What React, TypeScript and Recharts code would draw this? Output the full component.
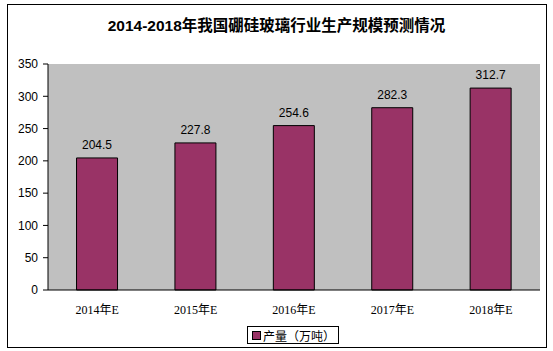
import { Bar, BarChart, CartesianGrid, LabelList, XAxis, YAxis } from "recharts";

const years = ["2014年E", "2015年E", "2016年E", "2017年E", "2018年E"];
const output = [204.5, 227.8, 254.6, 282.3, 312.7];
const yTicks = [0, 50, 100, 150, 200, 250, 300, 350];
const seriesName = "产量（万吨）";
const title = "2014-2018年我国硼硅玻璃行业生产规模预测情况";

const data = years.map((year, i) => ({ year, output: output[i] }));

const BAR = "#993366";
const sans = "Arial, 'Liberation Sans', 'Noto Sans CJK SC', sans-serif";
const serif = "'Liberation Serif', 'Noto Sans CJK SC', serif";

export default function App() {
  return (
    <div style={{ position: "absolute", left: 0, top: 0, width: 553, height: 351, background: "#fff" }}>
      <div
        style={{
          position: "absolute",
          left: 7,
          top: 4,
          width: 538,
          height: 342,
          border: "1px solid #000",
        }}
      />
      <div
        style={{
          position: "absolute",
          left: 0,
          top: 13,
          width: 553,
          textAlign: "center",
          fontFamily: sans,
          fontWeight: "bold",
          fontSize: 15.5,
          color: "#000",
        }}
      >
        {title}
      </div>
      <div style={{ position: "absolute", left: 0, top: 0 }}>
        <BarChart
          width={553}
          height={351}
          data={data}
          margin={{ top: 64, right: 13, bottom: 31, left: 0 }}
          barCategoryGap="29%"
        >
          <CartesianGrid fill="#c0c0c0" stroke="none" />
          <XAxis
            dataKey="year"
            height={30}
            tickLine={false}
            axisLine={{ stroke: "#000" }}
            tickMargin={9}
            tick={{ fontFamily: serif, fontSize: 12, fill: "#000" }}
          />
          <XAxis xAxisId="top" dataKey="year" orientation="top" height={0} tick={false} tickLine={false} axisLine={{ stroke: "#000" }} />
          <YAxis
            domain={[0, 350]}
            ticks={yTicks}
            width={48}
            tickSize={5}
            tickMargin={5}
            axisLine={{ stroke: "#000" }}
            tickLine={{ stroke: "#000" }}
            tick={{ fontFamily: sans, fontSize: 12, fill: "#000" }}
          />
          <YAxis yAxisId="right" orientation="right" width={0} domain={[0, 350]} tick={false} tickLine={false} axisLine={{ stroke: "#000" }} />
          <Bar dataKey="output" fill={BAR} stroke="#000" strokeWidth={1} isAnimationActive={false}>
            <LabelList
              dataKey="output"
              position="top"
              offset={9}
              style={{ fontFamily: sans, fontSize: 12, fill: "#000" }}
            />
          </Bar>
        </BarChart>
      </div>
      <div
        style={{
          position: "absolute",
          left: 247,
          top: 326,
          width: 92,
          height: 18,
          border: "1px solid #000",
          display: "flex",
          alignItems: "center",
          boxSizing: "border-box",
          paddingLeft: 4,
          fontFamily: "'Noto Sans CJK SC', sans-serif",
          fontSize: 12,
          color: "#000",
        }}
      >
        <span
          style={{
            display: "inline-block",
            width: 7,
            height: 7,
            background: BAR,
            border: "1px solid #000",
            marginRight: 2,
          }}
        />
        {seriesName}
      </div>
    </div>
  );
}
